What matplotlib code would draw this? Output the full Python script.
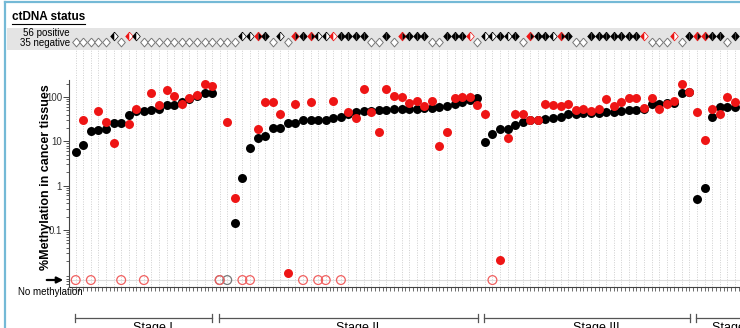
import numpy as np
import matplotlib
matplotlib.use("Agg")
import matplotlib.pyplot as plt
from matplotlib.lines import Line2D
from matplotlib.transforms import blended_transform_factory

nan = np.nan

# % methylation in cancer tissue, one value per patient (nan = no methylation)
black_vals = [5.8, 8.3, 17, 18, 18.6, 25.5, 26, 39, 48, 48, 51, 55, 66, 66, 78, 88, 105, 121, 126,
              nan, nan, 0.14, 1.5, 7, 11.7, 13, 19.6, 19.6, 26, 26.5, 30, 30, 30, 30, 33, 36, 41, 47,
              49, 49, 51, 51, 53, 54, 54, 54, 57, 57, 60, 64, 68, 78, 86, 97,
              9.8, 14.6, 19, 19, 23, 27, 30, 31, 31.5, 33, 36, 41, 41, 43, 44, 44, 45, 47, 49, 51,
              51, 55, 68, 68, 72, 74, 126, 132,
              0.49, 0.87, 35, 58, 58, 60]
red_vals = [nan, 31, nan, 49, 27, 9, nan, 25, 55, nan, 121, 66, 144, 105, 68, 93, 111, 194, 177,
            nan, 28, 0.52, nan, nan, 18.6, 76, 78, 41, 0.0105, 68, nan, 78, nan, nan, 83, nan, 47, 34,
            149, 47, 16.5, 149, 107, 98, 74, 83, 63, 81, 7.8, 16, 93, 100, 100, 66,
            41, nan, 0.0206, 12, 41, 41, 30, 31, 68, 66, 64, 68, 51, 55, 48, 55, 88, 64, 78, 97,
            97, 57, 97, 55, 68, 81, 194, 130,
            47, 10.7, 53, 41, 98, 76]

# ctDNA status per patient: N negative, B both black, R red/black, L black half, H red half
status = list("NNNNNLNHL" + "N" * 13 + "LLRBNLNRBRLLHBBBBNNBNRBBBNNBBBHN"
              + "LLBLBNRBBLRBNNBBBBBBBHNNNHNBRRBBNB")

stages = ["Stage I", "Stage II", "Stage III", "Stage IV"]
stage_cols = [(0, 18), (19, 53), (54, 81), (82, 90)]
y_ticks = [0.1, 1, 10, 100]
y_ticklabels = ["0.1", "1", "10", "100"]

NO_METH = 0.0074
RED = "#ee1515"

plt.rcParams["font.family"] = ["Liberation Sans", "DejaVu Sans"]

W, H = 740, 328
fig = plt.figure(figsize=(W / 100, H / 100), dpi=100)

def fx(px):
    return px / W

def fy(py):
    return 1 - py / H

cols = np.arange(len(black_vals))
black = np.array(black_vals, dtype=float)
red = np.array(red_vals, dtype=float)
x0, x1 = (69 - 75.7) / 7.577, (740 - 75.7) / 7.577

# main panel
ax = fig.add_axes([fx(69), fy(287), fx(740) - fx(69), fy(50) - fy(287)])
ax.set_yscale("log")
ax.set_xlim(x0, x1)
ax.set_ylim(0.00516, 1150)
for s in ["top", "right"]:
    ax.spines[s].set_visible(False)
for s in ["left", "bottom"]:
    ax.spines[s].set_color("#444444")
    ax.spines[s].set_linewidth(0.8)
ax.spines["left"].set_bounds(0.00516, 245)

ax.set_yticks(y_ticks)
ax.set_yticklabels(y_ticklabels)
minor = [k * 10.0 ** e for e in range(-3, 3) for k in range(2, 10)]
ax.set_yticks([m for m in minor if 0.0052 < m < 245], minor=True)
ax.yaxis.set_minor_formatter(plt.NullFormatter())
ax.tick_params(axis="y", which="major", length=4, width=0.7, pad=1, labelsize=7,
               colors="#444444", labelcolor="#333333")
ax.tick_params(axis="y", which="minor", length=2, width=0.6, colors="#444444")
ax.set_xticks(np.arange(-0.5, 88, 0.5))
ax.set_xticklabels([])
ax.tick_params(axis="x", length=3, width=0.6, colors="#555555")

ax.vlines(cols, 0.00516, 1150, colors="#cfcfcf", linestyles=(0, (1, 1.5)), lw=0.7, zorder=0)
ax.axhline(NO_METH, color="#dddddd", lw=0.8, zorder=0)

mb = ~np.isnan(black)
mr = ~np.isnan(red)
ax.scatter(cols[~mb], np.full((~mb).sum(), NO_METH), s=40, facecolors="none",
           edgecolors="#777777", linewidths=0.9, zorder=2)
ax.scatter(cols[~mr], np.full((~mr).sum(), NO_METH), s=40, facecolors="none",
           edgecolors="#f06060", linewidths=0.9, zorder=2)
ax.scatter(cols[mb], black[mb], s=42, c="black", linewidths=0, zorder=3)
ax.scatter(cols[mr], red[mr], s=42, c=RED, linewidths=0, zorder=4)

# arrow and "No methylation"
ax.annotate("", xy=(66, H - 280), xytext=(44, H - 280), xycoords="figure pixels",
            textcoords="figure pixels",
            arrowprops=dict(arrowstyle="-|>", color="black", lw=1.6, mutation_scale=9))
fig.text(fx(18), fy(292), "No methylation", fontsize=7, va="center", ha="left")
fig.text(fx(46), fy(177), "%Methylation in cancer tissues", rotation=90, fontsize=9,
         fontweight="bold", ha="center", va="center")

# stage brackets
tr = blended_transform_factory(ax.transData, fig.transFigure)
for name, (a, b) in zip(stages, stage_cols):
    xa, xb = a - 0.1, b + 0.05
    ax.plot([xa, xb], [fy(318), fy(318)], color="#555555", lw=0.9, transform=tr, clip_on=False)
    for xe in (xa, xb):
        ax.plot([xe, xe], [fy(314), fy(322)], color="#555555", lw=0.9, transform=tr,
                clip_on=False)
    ax.text((a + b) / 2 + 1.2, fy(322), name, fontsize=9, ha="center", va="top",
            transform=tr, clip_on=False)

# ctDNA status band
bax = fig.add_axes([fx(7), fy(50), fx(740) - fx(7), fy(28) - fy(50)])
bax.set_facecolor("#e4e4e4")
bax.set_xlim((7 - 75.7) / 7.577, x1)
bax.set_ylim(50, 28)
bax.set_xticks([])
bax.set_yticks([])
for s in bax.spines.values():
    s.set_visible(False)

left_half = [(0, 1.15), (-1, 0), (0, -1.15), (0, 1.15)]
right_half = [(0, 1.15), (1, 0), (0, -1.15), (0, 1.15)]
diamond = [(0, 1.15), (-1, 0), (0, -1.15), (1, 0), (0, 1.15)]
halves = {"B": ("black", "black"), "R": (RED, "black"),
          "L": ("black", "white"), "H": (RED, "white")}
ms = 6.3
for i, code in enumerate(status):
    if code == "N":
        bax.plot(i, 42, marker=diamond, ms=ms, mfc="white", mec="#777777", mew=0.7,
                 linestyle="none")
    else:
        lc, rc = halves[code]
        bax.plot(i, 36, marker=left_half, ms=ms, mfc=lc, mec="none", linestyle="none")
        bax.plot(i, 36, marker=right_half, ms=ms, mfc=rc, mec="none", linestyle="none")
        bax.plot(i, 36, marker=diamond, ms=ms, mfc="none", mec=lc, mew=0.5,
                 linestyle="none")

n_pos = 56
n_neg = 35
fig.text(fx(70), fy(33), f"{n_pos} positive", fontsize=7, ha="right", va="center")
fig.text(fx(70), fy(43), f"{n_neg} negative", fontsize=7, ha="right", va="center")

# title with underline
title = fig.text(fx(12), fy(17), "ctDNA status", fontsize=8.5, fontweight="bold",
                 ha="left", va="center")
fig.canvas.draw()
bb = title.get_window_extent()
fig.add_artist(Line2D([bb.x0 / W, bb.x1 / W], [(bb.y0 - 1) / H, (bb.y0 - 1) / H],
                      color="black", lw=0.8, transform=fig.transFigure))

# light blue frame
fig.add_artist(Line2D([fx(5), fx(5)], [0, fy(2)], color="#74b9d6", lw=1.6,
                      transform=fig.transFigure))
fig.add_artist(Line2D([fx(5), 1], [fy(2), fy(2)], color="#74b9d6", lw=1.6,
                      transform=fig.transFigure))

fig.savefig("out.png", dpi=100)
